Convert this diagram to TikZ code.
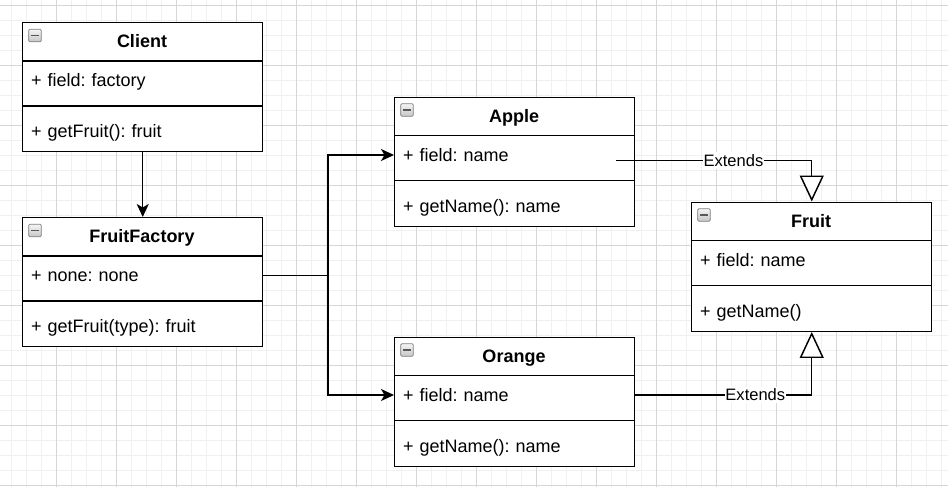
\documentclass[tikz,border=0pt]{standalone}
\usepackage{fontspec}
\setmainfont{Liberation Sans}
\usetikzlibrary{arrows.meta}
\frenchspacing

\definecolor{gridmajor}{RGB}{214,214,214}
\definecolor{gridminor}{RGB}{240,240,240}

\begin{document}
\begin{tikzpicture}[x=0.75pt, y=-0.75pt, line width=1.1pt,
  classbox/.style={draw, fill=white, anchor=north west, minimum width=180pt, minimum height=96.75pt, inner sep=0pt},
  classname/.style={text height=9.8pt, text depth=0.2pt, inner sep=0pt, font=\fontsize{13.5}{16}\selectfont\bfseries},
  member/.style={anchor=west, text width=167.5pt, inner xsep=6.25pt, inner ysep=0pt, text height=9.8pt, text depth=0.2pt, align=left, font=\fontsize{13.5}{16}\selectfont},
  minusicon/.style={draw=gray, line width=0.6pt, top color=gray!8, bottom color=gray!45, rounded corners=1pt, minimum size=9.5pt, inner sep=0pt,
    path picture={\draw[line width=1.3pt, black!65] ([xshift=-2.7pt]path picture bounding box.center) -- ([xshift=2.7pt]path picture bounding box.center);}},
  assoc/.style={-{Stealth[length=9.75pt, width=9pt, inset=2.6pt]}},
  extends/.style={-{Triangle[open, length=19.5pt, width=18pt, fill=white]}},
  edgelabel/.style={fill=white, inner xsep=0.6pt, inner ysep=1.5pt, text height=8.9pt, text depth=0.3pt, font=\fontsize{12.4}{14}\selectfont}]

\useasboundingbox (0,0) rectangle (948,487);

% grid
\foreach \x in {11,26,...,941} \draw[gridminor, line width=0.75pt] (\x,0) -- (\x,487);
\foreach \y in {5,20,...,485} \draw[gridminor, line width=0.75pt] (0,\y) -- (948,\y);
\foreach \x in {56,116,...,896} \draw[gridmajor, line width=0.75pt] (\x,0) -- (\x,487);
\foreach \y in {5,65,...,485} \draw[gridmajor, line width=0.75pt] (0,\y) -- (948,\y);

% Client
\node[classbox] (client) at (22,22) {};
\node[minusicon] (clienticon) at (35,35.5) {};
\node[classname] (clientname) at (142,41.5) {Client};
\draw (22,61) -- (262,61);
\draw (22,106) -- (262,106);
\node[member] (clientfield) at (22,80.5) {+ field: factory};
\node[member] (clientmethod) at (22,131.5) {+ getFruit(): fruit};

% FruitFactory
\node[classbox] (factory) at (22,217) {};
\node[minusicon] (factoryicon) at (35,230.5) {};
\node[classname] (factoryname) at (142,236.5) {FruitFactory};
\draw (22,256) -- (262,256);
\draw (22,301) -- (262,301);
\node[member] (factoryfield) at (22,275.5) {+ none: none};
\node[member] (factorymethod) at (22,326.5) {+ getFruit(type): fruit};

% Apple
\node[classbox] (apple) at (394,96.5) {};
\node[minusicon] (appleicon) at (407,110) {};
\node[classname] (applename) at (514,116) {Apple};
\draw (394,135.5) -- (634,135.5);
\draw (394,180.5) -- (634,180.5);
\node[member] (applefield) at (394,155) {+ field: name};
\node[member] (applemethod) at (394,206) {+ getName(): name};

% Orange
\node[classbox] (orange) at (394,336.5) {};
\node[minusicon] (orangeicon) at (407,350) {};
\node[classname] (orangename) at (514,356) {Orange};
\draw (394,375.5) -- (634,375.5);
\draw (394,420.5) -- (634,420.5);
\node[member] (orangefield) at (394,395) {+ field: name};
\node[member] (orangemethod) at (394,446) {+ getName(): name};

% Fruit
\node[classbox] (fruit) at (691,201.5) {};
\node[minusicon] (fruiticon) at (704,215) {};
\node[classname] (fruitname) at (811,221) {Fruit};
\draw (691,240.5) -- (931,240.5);
\draw (691,285.5) -- (931,285.5);
\node[member] (fruitfield) at (691,260) {+ field: name};
\node[member] (fruitmethod) at (691,311) {+ getName()};

% connectors
\coordinate (split) at (328,275.5);
\coordinate (applestub) at (616,160.5);

\draw[assoc] (client.south) -- (factory.north);
\draw (factoryfield.east) -- (split);
\draw[assoc] (split) |- (applefield.west);
\draw[assoc] (split) |- (orangefield.west);
\draw[extends] (applestub) -| node[edgelabel, pos=0.3] {Extends} (fruit.north);
\draw[extends] (orangefield.east) -| node[edgelabel, pos=0.34] {Extends} (fruit.south);
\end{tikzpicture}
\end{document}
